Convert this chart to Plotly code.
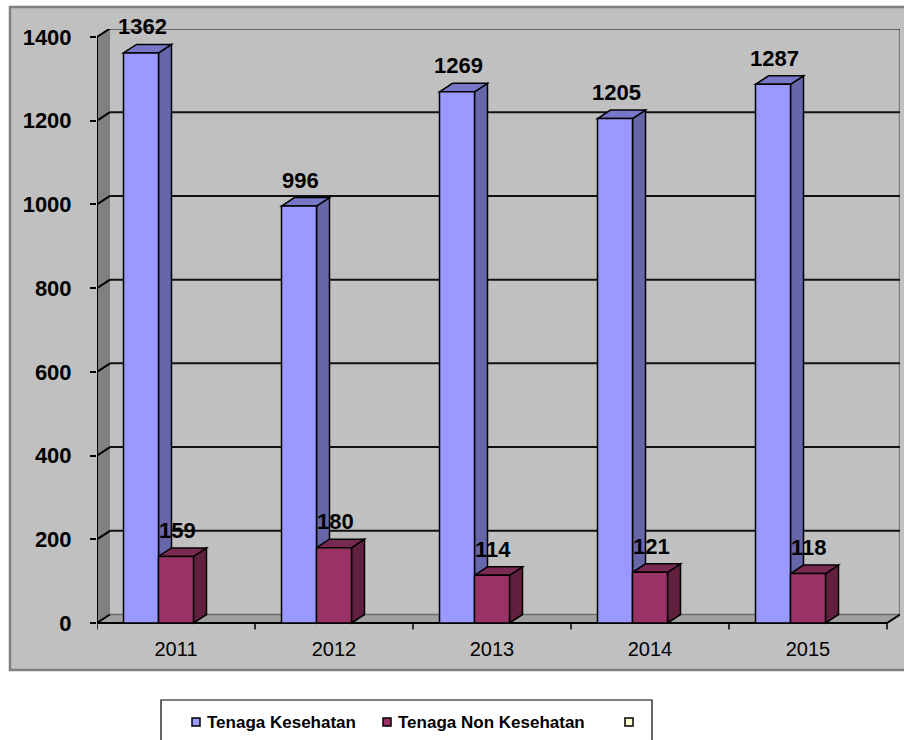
import plotly.graph_objects as go

# ---- data ----
years = ["2011", "2012", "2013", "2014", "2015"]
tenaga_kesehatan = [1362, 996, 1269, 1205, 1287]
tenaga_non_kesehatan = [159, 180, 114, 121, 118]
y_ticks = [0, 200, 400, 600, 800, 1000, 1200, 1400]
series_names = ["Tenaga Kesehatan", "Tenaga Non Kesehatan", ""]

# ---- styling ----
FONT = "Arial, Liberation Sans, sans-serif"
BG = "#C0C0C0"
BLUE_FRONT, BLUE_SIDE, BLUE_TOP = "#9999FF", "#6666A8", "#7777C8"
RED_FRONT, RED_SIDE, RED_TOP = "#993366", "#62203F", "#7A2A52"
SIDE_WALL = "#808080"
FLOOR = "#A0A0A0"

# ---- layout geometry (pixels) ----
W, H = 904, 740
L, R, T, B = 97, 4, 29, 110
PW, PH = W - L - R, H - T - B
CAT_PX = 158.0                     # width of one category
ZERO_PX, TOP_PX = 623.0, 37.0      # pixel rows of 0 and 1400 on the front plane
S = (ZERO_PX - TOP_PX) / 1400.0    # pixels per unit
Y_RANGE = [-(H - B - ZERO_PX) / S, (ZERO_PX - T) / S]
X_RANGE = [-0.5, -0.5 + PW / CAT_PX]
DX = 13.0 / CAT_PX                 # depth offset in category units
DY = 8.5 / S                       # depth offset in value units
BW = 35.0 / CAT_PX                 # bar width
n = len(years)
idx = list(range(n))
x_lo, x_hi = -0.5, n - 0.5
y_top = y_ticks[-1]


def px(xp):
    return (xp - L) / PW


def py(yp):
    return (H - B - yp) / PH


def path(points):
    return "M " + " L ".join(f"{x},{y}" for x, y in points) + " Z"


shapes = []

# outer chart area
shapes.append(dict(type="rect", xref="paper", yref="paper", layer="below",
                   x0=px(10), x1=px(910), y0=py(670), y1=py(7),
                   fillcolor=BG, line=dict(color="#808080", width=2.5)))

# left wall and floor
shapes.append(dict(type="path", xref="x", yref="y", layer="below",
                   path=path([(x_lo, 0), (x_lo, y_top), (x_lo + DX, y_top + DY), (x_lo + DX, DY)]),
                   fillcolor=SIDE_WALL, line=dict(width=0)))
shapes.append(dict(type="path", xref="x", yref="y", layer="below",
                   path=path([(x_lo, 0), (x_lo + DX, DY), (x_hi + DX, DY), (x_hi, 0)]),
                   fillcolor=FLOOR, line=dict(width=0)))
# back edge of the floor
shapes.append(dict(type="line", xref="x", yref="y", layer="below",
                   x0=x_lo + DX, x1=x_hi + DX, y0=DY, y1=DY,
                   line=dict(color="#6E6E6E", width=1.5)))
# right edge of the back wall
shapes.append(dict(type="line", xref="x", yref="y", layer="below",
                   x0=x_hi + DX, x1=x_hi + DX, y0=DY, y1=y_top + DY,
                   line=dict(color="#808080", width=2.5)))

# gridlines on the side and back walls
for v in y_ticks:
    shapes.append(dict(type="line", xref="x", yref="y", layer="below",
                       x0=x_lo, x1=x_lo + DX, y0=v, y1=v + DY,
                       line=dict(color="black", width=2)))
    if v > 0:
        shapes.append(dict(type="line", xref="x", yref="y", layer="below",
                           x0=x_lo + DX, x1=x_hi + DX, y0=v + DY, y1=v + DY,
                           line=dict(color="#111111", width=2)))

# front axis lines and category tick marks
shapes.append(dict(type="line", xref="x", yref="y", layer="below",
                   x0=x_lo, x1=x_lo, y0=0, y1=y_top, line=dict(color="black", width=2)))
shapes.append(dict(type="path", xref="x", yref="y", layer="below",
                   path=f"M {x_lo},0 L {x_hi},0 L {x_hi + DX},{DY}",
                   line=dict(color="black", width=2)))
for k in range(n + 1):
    xb = x_lo + k
    shapes.append(dict(type="line", xref="x", yref="y", layer="below",
                       x0=xb, x1=xb, y0=0, y1=-6.5 / S, line=dict(color="black", width=1.5)))


def bar_faces(values, offset, side_col, top_col):
    for i, v in zip(idx, values):
        xl = i + offset
        xr = xl + BW
        shapes.append(dict(type="path", xref="x", yref="y", layer="below",
                           path=path([(xr, 0), (xr, v), (xr + DX, v + DY), (xr + DX, DY)]),
                           fillcolor=side_col, line=dict(color="black", width=1.5)))
        shapes.append(dict(type="path", xref="x", yref="y", layer="below",
                           path=path([(xl, v), (xl + DX, v + DY), (xr + DX, v + DY), (xr, v)]),
                           fillcolor=top_col, line=dict(color="black", width=1.5)))


OFF_BLUE, OFF_RED = -1.5 * BW, -0.5 * BW
bar_faces(tenaga_kesehatan, OFF_BLUE, BLUE_SIDE, BLUE_TOP)
bar_faces(tenaga_non_kesehatan, OFF_RED, RED_SIDE, RED_TOP)

fig = go.Figure()
fig.add_trace(go.Bar(x=idx, y=tenaga_kesehatan, width=BW, offset=OFF_BLUE,
                     name=series_names[0], marker=dict(color=BLUE_FRONT, line=dict(color="black", width=1.5)),
                     showlegend=False))
fig.add_trace(go.Bar(x=idx, y=tenaga_non_kesehatan, width=BW, offset=OFF_RED,
                     name=series_names[1], marker=dict(color=RED_FRONT, line=dict(color="black", width=1.5)),
                     showlegend=False))

# value labels
annotations = []
for values, off in ((tenaga_kesehatan, OFF_BLUE), (tenaga_non_kesehatan, OFF_RED)):
    for i, v in zip(idx, values):
        annotations.append(dict(x=i + off + BW / 2 + 1.0 / CAT_PX, y=v, xref="x", yref="y",
                                text=f"<b>{v}</b>", showarrow=False, yshift=26,
                                xanchor="center", yanchor="middle",
                                font=dict(family=FONT, size=22, color="black")))

# legend box
shapes.append(dict(type="rect", xref="paper", yref="paper", x0=px(161), x1=px(652),
                   y0=py(760), y1=py(700), fillcolor="white", line=dict(color="black", width=1.2)))
legend_items = [(192, 205, BLUE_FRONT, series_names[0]),
                (383, 396, RED_FRONT, series_names[1]),
                (625, 638, "#FFFFCC", series_names[2])]
for sx, tx, col, name in legend_items:
    shapes.append(dict(type="rect", xref="paper", yref="paper", x0=px(sx), x1=px(sx + 8),
                       y0=py(726), y1=py(718), fillcolor=col, line=dict(color="black", width=1.5)))
    if name:
        annotations.append(dict(x=px(tx), y=py(722), xref="paper", yref="paper", text=f"<b>{name}</b>",
                                showarrow=False, xanchor="left", yanchor="middle",
                                font=dict(family=FONT, size=17, color="black")))

fig.update_layout(
    width=W, height=H,
    margin=dict(l=L, r=R, t=T, b=B),
    paper_bgcolor="white", plot_bgcolor="rgba(0,0,0,0)",
    barmode="overlay", showlegend=False,
    shapes=shapes, annotations=annotations,
    xaxis=dict(range=X_RANGE, tickvals=idx, ticktext=years, ticks="", showgrid=False,
               zeroline=False, showline=False, ticklabelstandoff=5,
               tickfont=dict(family=FONT, size=20, color="black")),
    yaxis=dict(range=Y_RANGE, tickvals=y_ticks, ticktext=[f"<b>{t}</b>" for t in y_ticks],
               ticks="outside", ticklen=6, tickwidth=1.5, tickcolor="black",
               showgrid=False, zeroline=False, showline=False, ticklabelstandoff=14,
               tickfont=dict(family=FONT, size=22, color="black")),
)

fig.write_html("out.html")
